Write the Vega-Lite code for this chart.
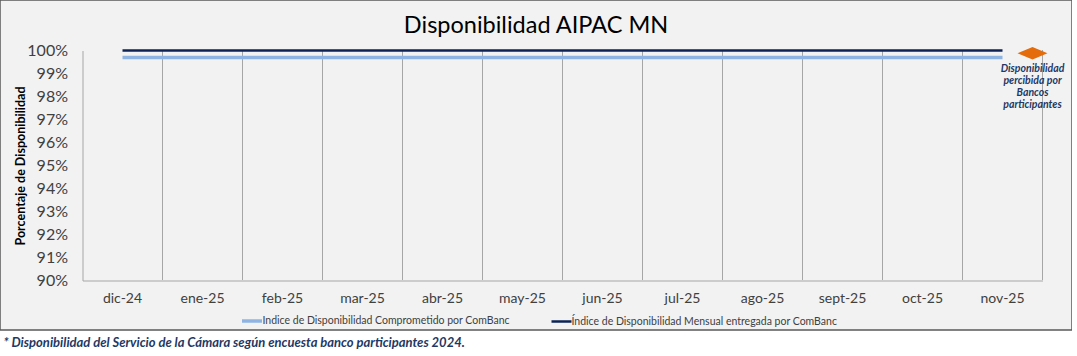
{
  "$schema": "https://vega.github.io/schema/vega-lite/v6.json",
  "width": 1072,
  "height": 330,
  "padding": 0,
  "autosize": {"type": "pad"},
  "background": "white",
  "title": {
    "text": "Disponibilidad AIPAC MN",
    "anchor": "middle",
    "frame": "group",
    "offset": -37,
    "font": "Lato",
    "fontSize": 23.5,
    "fontWeight": "normal",
    "color": "#000000"
  },
  "config": {
    "font": "Lato",
    "view": {"fill": "#f2f2f2", "stroke": "#595959", "strokeWidth": 1.5},
    "axis": {"labelOverlap": false},
    "axisY": {"labelOverlap": false},
    "axisQuantitative": {"labelOverlap": false}
  },
  "datasets": {
    "series": [
      {"mes": "dic-24", "serie": "Indice de Disponibilidad Comprometido por ComBanc", "valor": 0.997},
      {"mes": "ene-25", "serie": "Indice de Disponibilidad Comprometido por ComBanc", "valor": 0.997},
      {"mes": "feb-25", "serie": "Indice de Disponibilidad Comprometido por ComBanc", "valor": 0.997},
      {"mes": "mar-25", "serie": "Indice de Disponibilidad Comprometido por ComBanc", "valor": 0.997},
      {"mes": "abr-25", "serie": "Indice de Disponibilidad Comprometido por ComBanc", "valor": 0.997},
      {"mes": "may-25", "serie": "Indice de Disponibilidad Comprometido por ComBanc", "valor": 0.997},
      {"mes": "jun-25", "serie": "Indice de Disponibilidad Comprometido por ComBanc", "valor": 0.997},
      {"mes": "jul-25", "serie": "Indice de Disponibilidad Comprometido por ComBanc", "valor": 0.997},
      {"mes": "ago-25", "serie": "Indice de Disponibilidad Comprometido por ComBanc", "valor": 0.997},
      {"mes": "sept-25", "serie": "Indice de Disponibilidad Comprometido por ComBanc", "valor": 0.997},
      {"mes": "oct-25", "serie": "Indice de Disponibilidad Comprometido por ComBanc", "valor": 0.997},
      {"mes": "nov-25", "serie": "Indice de Disponibilidad Comprometido por ComBanc", "valor": 0.997},
      {"mes": "dic-24", "serie": "Índice de Disponibilidad Mensual entregada por ComBanc", "valor": 1.0},
      {"mes": "ene-25", "serie": "Índice de Disponibilidad Mensual entregada por ComBanc", "valor": 1.0},
      {"mes": "feb-25", "serie": "Índice de Disponibilidad Mensual entregada por ComBanc", "valor": 1.0},
      {"mes": "mar-25", "serie": "Índice de Disponibilidad Mensual entregada por ComBanc", "valor": 1.0},
      {"mes": "abr-25", "serie": "Índice de Disponibilidad Mensual entregada por ComBanc", "valor": 1.0},
      {"mes": "may-25", "serie": "Índice de Disponibilidad Mensual entregada por ComBanc", "valor": 1.0},
      {"mes": "jun-25", "serie": "Índice de Disponibilidad Mensual entregada por ComBanc", "valor": 1.0},
      {"mes": "jul-25", "serie": "Índice de Disponibilidad Mensual entregada por ComBanc", "valor": 1.0},
      {"mes": "ago-25", "serie": "Índice de Disponibilidad Mensual entregada por ComBanc", "valor": 1.0},
      {"mes": "sept-25", "serie": "Índice de Disponibilidad Mensual entregada por ComBanc", "valor": 1.0},
      {"mes": "oct-25", "serie": "Índice de Disponibilidad Mensual entregada por ComBanc", "valor": 1.0},
      {"mes": "nov-25", "serie": "Índice de Disponibilidad Mensual entregada por ComBanc", "valor": 1.0}
    ],
    "encuesta": [
      {"mes": "nov-25", "valor": 0.9988, "nota": "Disponibilidad\npercibida por\nBancos\nparticipantes"}
    ]
  },
  "encoding": {
    "y": {
      "field": "valor",
      "type": "quantitative",
      "scale": {"domain": [0.9, 1.0], "range": [280.5, 50.5], "nice": false, "zero": false},
      "axis": {
        "orient": "left",
        "offset": -82.5,
        "values": [0.9, 0.91, 0.92, 0.93, 0.94, 0.95, 0.96, 0.97, 0.98, 0.99, 1.0],
        "format": ".0%",
        "labelOverlap": false,
        "labelBound": false,
        "labelSeparation": 0,
        "grid": false,
        "ticks": false,
        "domainColor": "#a6a6a6",
        "labelFontSize": 16,
        "labelColor": "#404040",
        "labelPadding": 15,
        "title": "Porcentaje de Disponibilidad",
        "titleFontSize": 12.5,
        "titleFontWeight": "bold",
        "titleColor": "#000000",
        "titleX": -62,
        "titleBaseline": "middle"
      }
    }
  },
  "layer": [
    {
      "data": {"name": "series"},
      "mark": {"type": "line"},
      "encoding": {
        "x": {
          "field": "mes",
          "type": "ordinal",
          "sort": null,
          "bandPosition": 0.5,
          "scale": {
            "type": "band",
            "domain": ["dic-24", "ene-25", "feb-25", "mar-25", "abr-25", "may-25", "jun-25", "jul-25", "ago-25", "sept-25", "oct-25", "nov-25"],
            "range": [82.5, 1042.5],
            "paddingInner": 0,
            "paddingOuter": 0
          },
          "axis": {
            "orient": "bottom",
            "offset": -49.5,
            "bandPosition": 1,
            "grid": true,
            "gridColor": "#a6a6a6",
            "gridWidth": 1,
            "ticks": false,
            "domainColor": "#a6a6a6",
            "domainWidth": 1,
            "labelAngle": 0,
            "labelFontSize": 14,
            "labelColor": "#404040",
            "labelPadding": 11,
            "title": "*  Disponibilidad del Servicio de la Cámara según encuesta banco participantes 2024.",
            "titleAnchor": "start",
            "titleAlign": "left",
            "titleBaseline": "middle",
            "titleX": 3,
            "titleY": 62,
            "titleFontSize": 13,
            "titleFontWeight": "bold",
            "titleFontStyle": "italic",
            "titleColor": "#1f3864"
          }
        },
        "color": {
          "field": "serie",
          "type": "nominal",
          "scale": {
            "domain": ["Indice de Disponibilidad Comprometido por ComBanc", "Índice de Disponibilidad Mensual entregada por ComBanc"],
            "range": ["#8eb4e3", "#0d2356"]
          },
          "legend": {
            "orient": "none",
            "legendX": 240,
            "legendY": 309,
            "direction": "horizontal",
            "title": null,
            "symbolType": "stroke",
            "symbolSize": 400,
            "symbolStrokeWidth": 3.5,
            "labelFontSize": 10.5,
            "labelColor": "#404040",
            "labelOffset": -1.5,
            "labelLimit": 0,
            "columnPadding": 36,
            "padding": 0
          }
        },
        "strokeWidth": {
          "field": "serie",
          "type": "nominal",
          "scale": {
            "domain": ["Indice de Disponibilidad Comprometido por ComBanc", "Índice de Disponibilidad Mensual entregada por ComBanc"],
            "range": [3.5, 2.5]
          },
          "legend": null
        }
      }
    },
    {
      "data": {"name": "encuesta"},
      "mark": {
        "type": "point",
        "shape": "M-1,0L0,-0.42L1,0L0,0.42Z",
        "size": 900,
        "filled": true,
        "opacity": 1,
        "color": "#e46c0a",
        "strokeWidth": 0
      },
      "encoding": {
        "x": {"field": "mes", "type": "ordinal", "bandPosition": 0.875}
      }
    },
    {
      "data": {"name": "encuesta"},
      "mark": {
        "type": "text",
        "lineBreak": "\n",
        "align": "center",
        "baseline": "top",
        "dy": 11,
        "fontSize": 10.5,
        "lineHeight": 12,
        "fontStyle": "italic",
        "fontWeight": "bold",
        "color": "#1f3864"
      },
      "encoding": {
        "x": {"field": "mes", "type": "ordinal", "bandPosition": 0.875},
        "text": {"field": "nota"}
      }
    }
  ]
}
